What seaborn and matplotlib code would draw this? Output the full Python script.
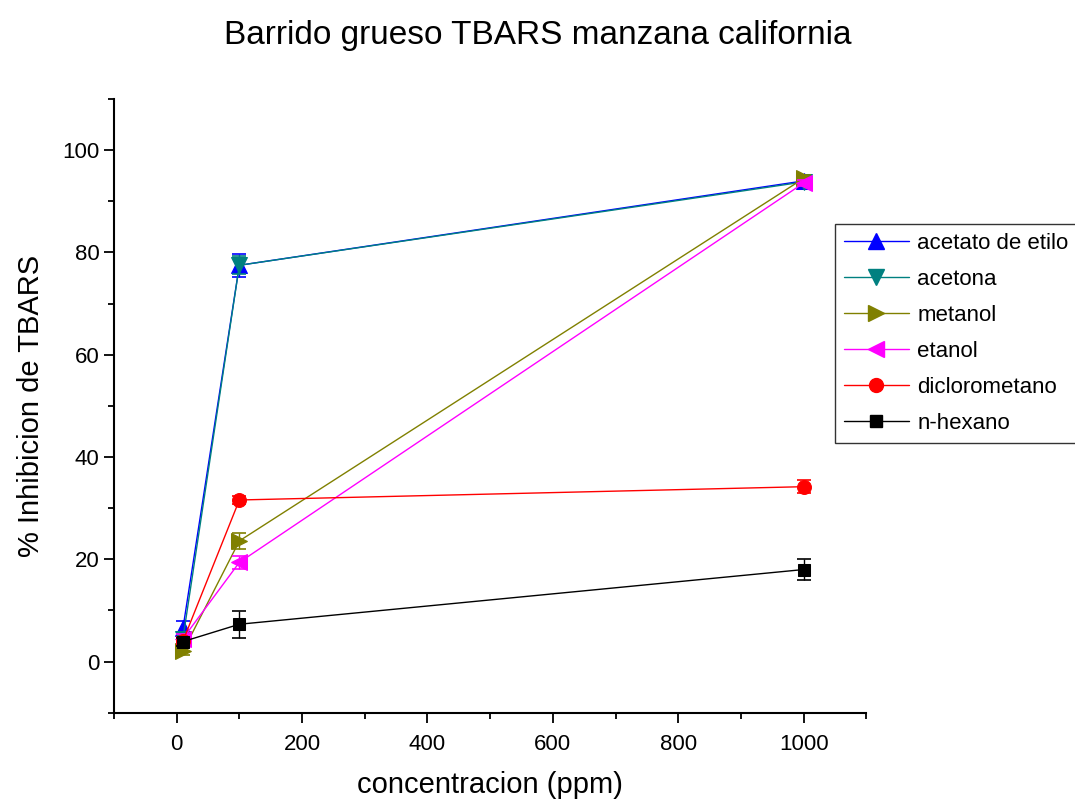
import seaborn as sns
import matplotlib.pyplot as plt, numpy as np
import pandas as pd
from matplotlib.ticker import MultipleLocator
from matplotlib.lines import Line2D

sns.set_style('ticks')
plt.rcParams['font.family'] = ['Liberation Sans', 'DejaVu Sans']
plt.rcParams['text.color'] = 'black'
plt.rcParams['axes.labelcolor'] = 'black'
plt.rcParams['xtick.color'] = 'black'
plt.rcParams['ytick.color'] = 'black'

conc = [10, 100, 1000]
solventes = ['acetato de etilo', 'acetona', 'metanol', 'etanol', 'diclorometano', 'n-hexano']
acetato = [6.5, 77.5, 94.0]
acetona = [4.5, 77.5, 93.8]
metanol = [2.0, 23.6, 94.5]
etanol = [4.5, 19.4, 93.6]
dicloro = [4.0, 31.6, 34.2]
hexano = [3.9, 7.3, 18.0]
err_acetato = [1.5, 2.2, 0.6]
err_acetona = [1.0, 1.8, 0.6]
err_metanol = [0.8, 1.5, 0.6]
err_etanol = [0.8, 1.2, 0.6]
err_dicloro = [0.8, 0.8, 1.3]
err_hexano = [0.8, 2.6, 2.0]

valores = [acetato, acetona, metanol, etanol, dicloro, hexano]
errores = [err_acetato, err_acetona, err_metanol, err_etanol, err_dicloro, err_hexano]
colores = ['#0000ff', '#008080', '#808000', '#ff00ff', '#ff0000', '#000000']
marcas = ['^', 'v', '>', '<', 'o', 's']
tam = [11, 11, 11, 11, 10, 8.5]

df = pd.DataFrame([(s, c, v, e) for s, vs, es in zip(solventes, valores, errores)
                   for c, v, e in zip(conc, vs, es)],
                  columns=['solvente', 'conc', 'inhib', 'err'])

fig = plt.figure(figsize=(10.75, 7.99), dpi=100)
ax = fig.add_axes([0.106, 0.108, 0.700, 0.768])

for s, col, m, ms in zip(solventes, colores, marcas, tam):
    d = df[df.solvente == s]
    ax.errorbar(d.conc, d.inhib, yerr=d.err, fmt='none', ecolor=col, elinewidth=1,
                capsize=5, capthick=1.2)
    sns.lineplot(data=d, x='conc', y='inhib', color=col, marker=m, markersize=ms,
                 markeredgecolor=col, linewidth=1, ax=ax, legend=False)

ax.set_xlim(-100, 1100)
ax.set_ylim(-10, 110)
ax.xaxis.set_major_locator(MultipleLocator(200))
ax.xaxis.set_minor_locator(MultipleLocator(100))
ax.yaxis.set_major_locator(MultipleLocator(20))
ax.yaxis.set_minor_locator(MultipleLocator(10))
ax.tick_params(which='major', length=7, width=1.3, labelsize=16, direction='out')
ax.tick_params(axis='x', which='major', pad=8)
ax.tick_params(which='minor', length=4, width=1.3, direction='out')
sns.despine(ax=ax)
for sp in ['left', 'bottom']:
    ax.spines[sp].set_linewidth(1.5)
    ax.spines[sp].set_color('black')

ax.set_xlabel('concentracion (ppm)', fontsize=21, labelpad=12)
ax.set_ylabel('% Inhibicion de TBARS', fontsize=21, labelpad=12)
fig.suptitle('Barrido grueso TBARS manzana california', fontsize=24, y=0.975)

handles = [Line2D([0], [0], color=c, marker=m, markersize=ms, linewidth=1, markeredgecolor=c)
           for c, m, ms in zip(colores, marcas, tam)]
leg = fig.legend(handles, solventes, loc='upper left', bbox_to_anchor=(0.777, 0.72),
                 fontsize=16, frameon=True, fancybox=False, handlelength=2.9,
                 labelspacing=0.68, borderpad=0.4, handletextpad=0.4, borderaxespad=0)
leg.get_frame().set_edgecolor('black')
leg.get_frame().set_linewidth(1)

fig.savefig('out.png', dpi=100)
